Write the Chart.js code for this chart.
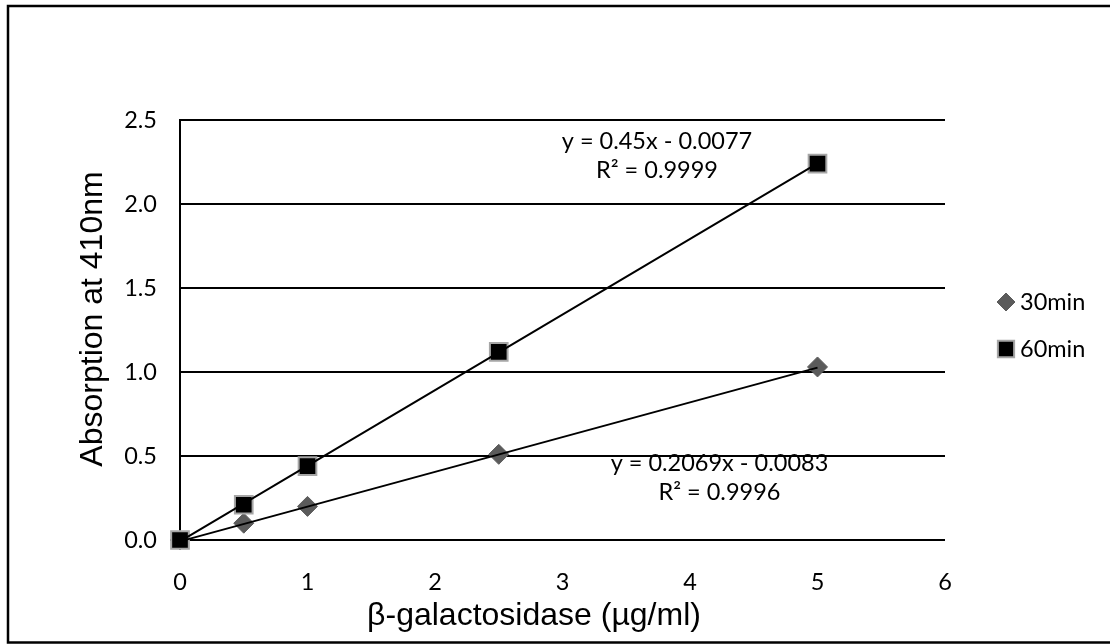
<!DOCTYPE html>
<html>
<head>
<meta charset="utf-8">
<script src="https://cdn.jsdelivr.net/npm/chart.js@4.4.1/dist/chart.umd.min.js"></script>
<style>
  html, body { margin: 0; padding: 0; background: #fff; }
  #wrap { width: 1110px; height: 644px; position: relative; }
</style>
</head>
<body>
<div id="wrap"><canvas id="c" width="1110" height="644"></canvas></div>
<script>
// ---- data ----
const concentrations = [0, 0.5, 1, 2.5, 5];
const abs30 = [0, 0.10, 0.20, 0.51, 1.03];
const abs60 = [0, 0.21, 0.44, 1.12, 2.24];
const seriesNames = ['30min', '60min'];
// trendline endpoints (from the equations printed on the chart)
const trendX = [0, 5];
const trend30 = [-0.0083, 1.0262];
const trend60 = [-0.0077, 2.2423];
const yTickLabels = ['0.0', '0.5', '1.0', '1.5', '2.0', '2.5'];
const xTickLabels = ['0', '1', '2', '3', '4', '5', '6'];
const eq60 = ['y = 0.45x - 0.0077', 'R\u00B2 = 0.9999'];
const eq30 = ['y = 0.2069x - 0.0083', 'R\u00B2 = 0.9996'];
const xTitle = '\u03B2-galactosidase (\u00B5g/ml)';
const yTitle = 'Absorption at 410nm';

const pts = (xs, ys) => xs.map((x, i) => ({x: x, y: ys[i]}));

const TXT_FONT = 'Lato';
const TXT_SIZE = 23.5;
const TITLE_FONT = '"Liberation Sans", Arial, sans-serif';

const extras = {
  id: 'extras',
  afterDraw(chart) {
    const ctx = chart.ctx;
    const xs = chart.scales.x, ys = chart.scales.y;
    ctx.save();
    // outer frame
    ctx.strokeStyle = '#000';
    ctx.lineWidth = 2.5;
    ctx.strokeRect(8, 6, 1200, 636.5);
    // axis titles
    ctx.fillStyle = '#000';
    ctx.font = '32px ' + TITLE_FONT;
    ctx.textAlign = 'center';
    ctx.textBaseline = 'alphabetic';
    ctx.fillText(xTitle, 534, 625);
    ctx.save();
    ctx.translate(93, 319);
    ctx.rotate(-Math.PI / 2);
    ctx.textBaseline = 'middle';
    ctx.fillText(yTitle, 0, 0);
    ctx.restore();
    // equations
    ctx.font = TXT_SIZE + 'px ' + TXT_FONT;
    ctx.textAlign = 'center';
    ctx.textBaseline = 'middle';
    const drawEq = (lines, dx, dy) => {
      const px = xs.getPixelForValue(dx), py = ys.getPixelForValue(dy);
      lines.forEach((l, i) => ctx.fillText(l, px, py + i * 29));
    };
    drawEq(eq60, 3.741, 2.375);
    drawEq(eq30, 4.231, 0.458);
    // legend
    const metas = [chart.getDatasetMeta(2), chart.getDatasetMeta(3)];
    const legendY = [302, 349];
    ctx.textAlign = 'left';
    metas.forEach((m, i) => {
      const ds = chart.data.datasets[m.index];
      ctx.fillStyle = ds.backgroundColor;
      ctx.strokeStyle = ds.borderColor;
      ctx.lineWidth = ds.borderWidth;
      Chart.helpers.drawPoint(ctx, {pointStyle: ds.pointStyle, radius: ds.legendRadius, borderWidth: ds.borderWidth, rotation: 0}, 1006, legendY[i]);
      ctx.fillStyle = '#000';
      ctx.fillText(ds.label, 1020, legendY[i]);
    });
    ctx.restore();
  }
};

Chart.defaults.font.family = TXT_FONT;
Chart.defaults.color = '#000';

new Chart(document.getElementById('c'), {
  type: 'scatter',
  data: {
    datasets: [
      { type: 'line', label: 'trend60', data: pts(trendX, trend60), borderColor: '#000', borderWidth: 2, pointRadius: 0, fill: false, order: 0, clip: false },
      { type: 'line', label: 'trend30', data: pts(trendX, trend30), borderColor: '#000', borderWidth: 2, pointRadius: 0, fill: false, order: 0, clip: false },
      { label: seriesNames[0], data: pts(concentrations, abs30), pointStyle: 'rectRot', pointRadius: 10, legendRadius: 9, backgroundColor: '#5b5b5b', borderColor: '#5b5b5b', borderWidth: 1, order: 2, clip: false },
      { label: seriesNames[1], data: pts(concentrations, abs60), pointStyle: 'rect', pointRadius: 12.5, legendRadius: 11.5, backgroundColor: '#000', borderColor: '#a6a6a6', borderWidth: 2, order: 1, clip: false }
    ]
  },
  options: {
    responsive: false,
    animation: false,
    events: [],
    layout: { padding: { left: 8, top: 120, right: 165, bottom: 0 } },
    plugins: { legend: { display: false }, tooltip: { enabled: false } },
    scales: {
      x: {
        type: 'linear', min: 0, max: 6,
        afterFit(s) { s.height = 104; },
        afterBuildTicks(s) { s.ticks = xTickLabels.map((t, i) => ({value: i})); },
        ticks: { font: { size: TXT_SIZE }, padding: 20, maxRotation: 0, callback: (v, i) => xTickLabels[i] },
        grid: { display: false },
        border: { display: false },
        title: { display: false }
      },
      y: {
        type: 'linear', min: 0, max: 2.5,
        afterFit(s) { s.width = 172; },
        afterBuildTicks(s) { s.ticks = yTickLabels.map((t, i) => ({value: i * 0.5})); },
        ticks: { font: { size: TXT_SIZE }, padding: 23, callback: (v, i) => yTickLabels[i] },
        grid: { color: '#000', lineWidth: 2, drawTicks: false },
        border: { display: true, color: '#000', width: 2 },
        title: { display: false }
      }
    }
  },
  plugins: [extras]
});
</script>
</body>
</html>
